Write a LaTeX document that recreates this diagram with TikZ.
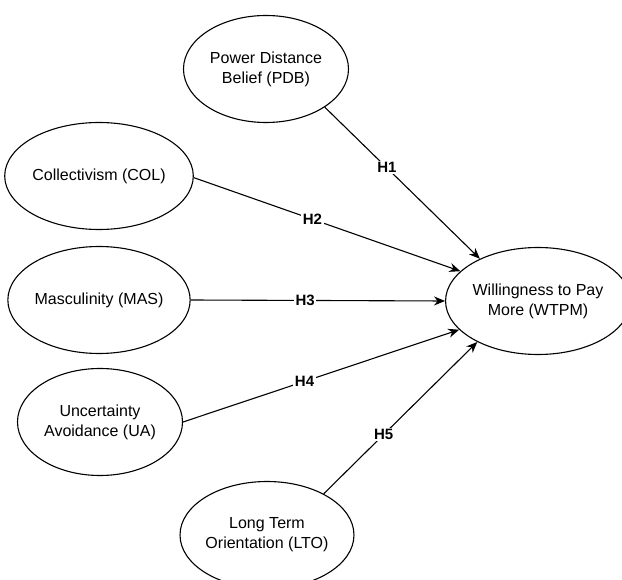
\documentclass[tikz,border=0pt]{standalone}
\usepackage{fontspec}
\setmainfont{Liberation Sans}
\usetikzlibrary{shapes.geometric,arrows.meta}
\tikzset{
  construct/.style={draw, ellipse, line width=1.1pt, minimum width=165pt, minimum height=107pt, inner sep=0pt, align=center, font=\fontsize{16}{20}\selectfont},
  hyp/.style={draw, line width=1.1pt, -{Stealth[length=11pt,width=9pt]}},
  hlabel/.style={fill=white, inner sep=1.5pt, font=\fontsize{15}{18}\selectfont\bfseries}
}
\begin{document}
\begin{tikzpicture}[x=1pt,y=-1pt]
\useasboundingbox (0,0) rectangle (622,580);
\node[construct] (pdb) at (266,69) {Power Distance\\Belief (PDB)};
\node[construct] (col) at (99,176) {Collectivism (COL)};
\node[construct] (mas) at (99,300) {Masculinity (MAS)};
\node[construct] (ua) at (100,422) {Uncertainty\\Avoidance (UA)};
\node[construct] (lto) at (267,535) {Long Term\\Orientation (LTO)};
\node[construct, minimum width=163pt] (wtpm) at (538,301) {Willingness to Pay\\More (WTPM)};
\draw[hyp] (pdb.-33) -- node[hlabel, pos=0.4] (h1) {H1} (wtpm.144);
\draw[hyp] (col.-1) -- node[hlabel, pos=0.445] (h2) {H2} (wtpm.159);
\draw[hyp] (mas.east) -- node[hlabel, pos=0.45] (h3) {H3} (wtpm.west);
\draw[hyp] (ua.0) -- node[hlabel, pos=0.44] (h4) {H4} (wtpm.200);
\draw[hyp] (lto.36) -- node[hlabel, pos=0.39] (h5) {H5} (wtpm.214);
\end{tikzpicture}
\end{document}
